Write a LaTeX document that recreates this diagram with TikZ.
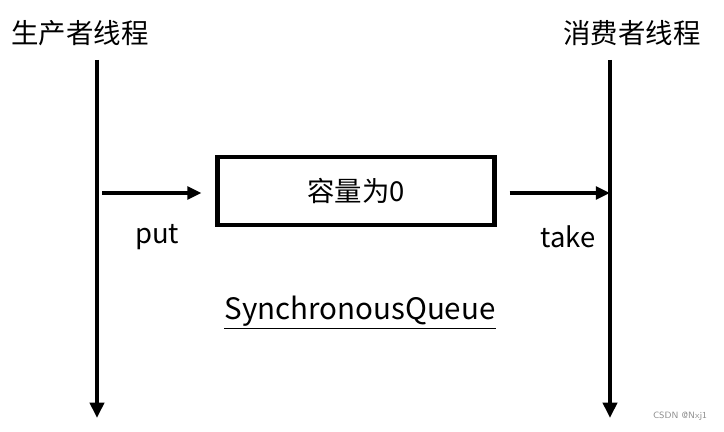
\documentclass[tikz,border=0pt]{standalone}
\usepackage{fontspec}
\setmainfont{Noto Sans CJK SC}
\usepackage{tikz}
\usetikzlibrary{positioning}
\usetikzlibrary{arrows.meta}
\usetikzlibrary{calc}

\begin{document}
\begin{tikzpicture}[
  x=0.025cm, y=-0.025cm,
  font=\fontsize{19.5}{23}\selectfont,
  title/.style={inner sep=0pt, anchor=center},
  box/.style={draw, line width=2.9pt, minimum width=277*0.025cm, minimum height=68*0.025cm, inner sep=0pt},
  lifeline/.style={-{Triangle[length=11pt,width=10pt]}, line width=2.8pt},
  arrow/.style={-{Triangle[length=10pt,width=9pt]}, line width=2.8pt},
  faint/.style={black!45, font=\fontsize{6.5}{8}\selectfont\sffamily}
]
\useasboundingbox (0,0) rectangle (724,432);

\node[title] (prod) at (80,33) {生产者线程};
\node[title] (cons) at (632,33) {消费者线程};

\coordinate (ptop) at (97,60);
\coordinate (pbot) at (97,418);
\coordinate (ctop) at (610,60);
\coordinate (cbot) at (610,418);

\node[box] (queue) at (356,191) {容量为0};

\coordinate (pout) at (102,193);
\coordinate (cin) at (610,193);

\draw[lifeline] (ptop) -- (pbot);
\draw[lifeline] (ctop) -- (cbot);

\draw[arrow] (pout) -- ($(queue.west)+(-14,2)$) coordinate (qin);
\draw[arrow] ($(queue.east)+(13,2)$) coordinate (qout) -- (cin);

\node[title] (put) at (157,237) {put};
\node[title] (take) at (568,237) {take};

\node[title, font=\fontsize{21}{25}\selectfont] (name) at (360,313) {\underline{SynchronousQueue}};

\node[faint] (mark) at (680,416) {CSDN @Nxj1};

\end{tikzpicture}
\end{document}
